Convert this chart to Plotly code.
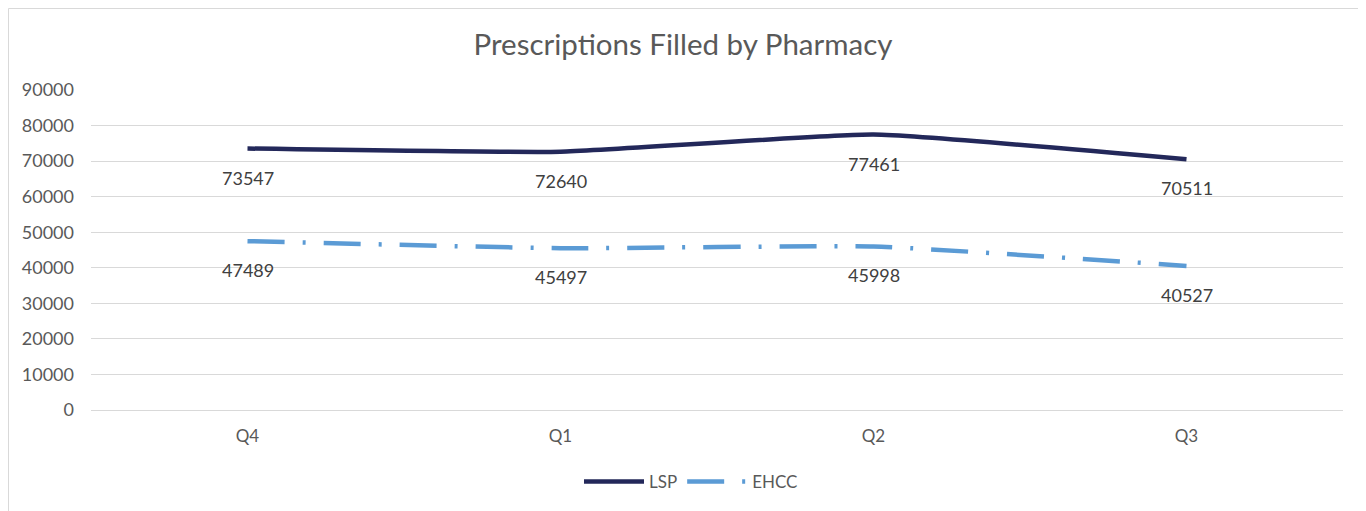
import plotly.graph_objects as go

categories = ["Q4", "Q1", "Q2", "Q3"]
lsp = [73547, 72640, 77461, 70511]
ehcc = [47489, 45497, 45998, 40527]
y_ticks = [0, 10000, 20000, 30000, 40000, 50000, 60000, 70000, 80000, 90000]

OFF = 8  # page body margin
W, H = 1366 - OFF, 511 - OFF
L, R, T, B = 91 - OFF, 23, 90 - OFF, 101
pw, ph = W - L - R, H - T - B
FONT = "Lato"
TXT = "#595959"
LBL = "#404040"

fig = go.Figure()
fig.add_trace(go.Scatter(
    x=categories, y=lsp, name="LSP", mode="lines",
    line=dict(color="#23285A", width=4.5, shape="spline", smoothing=0.4),
))
fig.add_trace(go.Scatter(
    x=categories, y=ehcc, name="EHCC", mode="lines",
    line=dict(color="#5B9BD5", width=4.5, shape="spline", smoothing=0.4,
              dash="37px,18px,3px,18px"),
))

annotations = []
for series in (lsp, ehcc):
    for c, v in zip(categories, series):
        annotations.append(dict(x=c, y=v, text=str(v), showarrow=False,
                                yshift=-29, xanchor="center", yanchor="middle",
                                font=dict(family=FONT, size=18, color=LBL)))

fig.update_layout(
    width=W, height=H,
    margin=dict(l=L, r=R, t=T, b=B),
    paper_bgcolor="white", plot_bgcolor="white",
    font=dict(family=FONT, size=18, color=TXT),
    title=dict(text="Prescriptions Filled by Pharmacy", x=(683 - OFF) / W, xanchor="center",
               xref="container", y=1 - (45 - OFF) / H, yanchor="middle",
               font=dict(family=FONT, size=29.5, color=TXT)),
    xaxis=dict(type="category", range=[-0.5, 3.5], showgrid=False, zeroline=False,
               showline=False, ticks="", ticklabelstandoff=14,
               tickfont=dict(family=FONT, size=17, color=TXT)),
    yaxis=dict(range=[0, 90000], tickvals=y_ticks, ticktext=[str(v) for v in y_ticks],
               showgrid=True, gridcolor="#D9D9D9", gridwidth=1, zeroline=True,
               zerolinecolor="#D9D9D9", zerolinewidth=1, showline=False, ticks="",
               ticklabelstandoff=16, tickfont=dict(family=FONT, size=18, color=TXT)),
    legend=dict(orientation="h", xref="container", yref="container", x=(691 - OFF) / W,
                xanchor="center", y=1 - (482 - OFF) / H, yanchor="middle",
                font=dict(family=FONT, size=17, color=TXT), itemwidth=60),
    annotations=annotations,
    shapes=[dict(type="rect", xref="paper", yref="paper",
                 x0=(0.5 - L) / pw, x1=(W + 10 - L) / pw,
                 y0=(-10 - B) / ph, y1=(H - 0.5 - B) / ph,
                 line=dict(color="#D9D9D9", width=1), fillcolor="rgba(0,0,0,0)",
                 layer="below")],
)

fig.write_html("out.html")
